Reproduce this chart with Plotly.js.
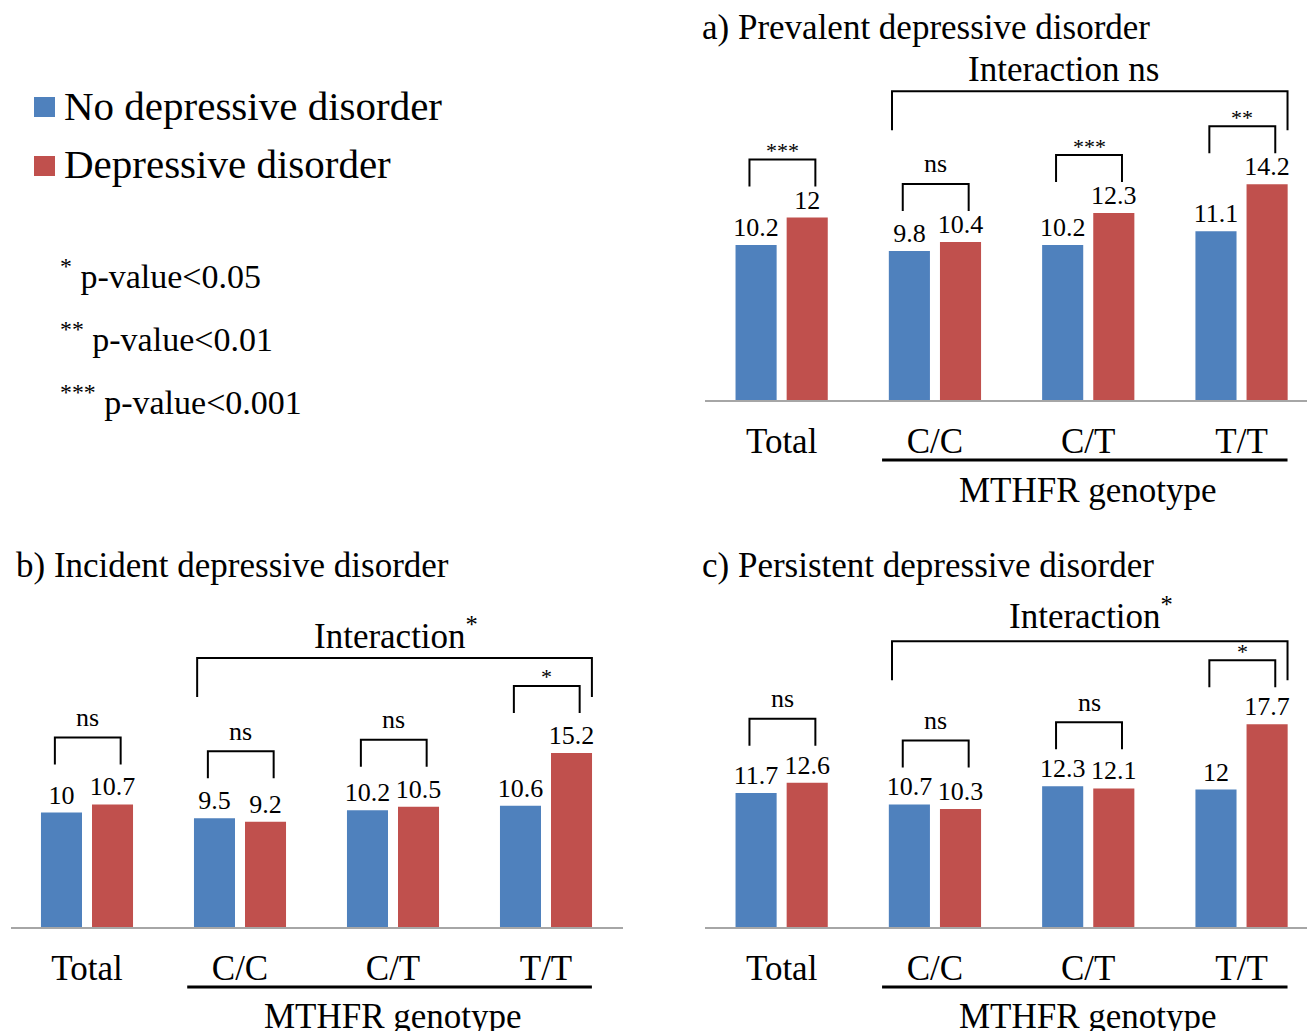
<!DOCTYPE html>
<html><head><meta charset="utf-8">
<script src="https://cdn.plot.ly/plotly-3.0.1.min.js"></script>
<style>html,body{margin:0;padding:0;background:#fff}#chart{width:1307px;height:1031px}</style>
</head><body><div id="chart"></div>
<script>
// ---------- data ----------
const categories = ['Total', 'C/C', 'C/T', 'T/T'];
const seriesNames = ['No depressive disorder', 'Depressive disorder'];

const prevalentNo  = [10.2, 9.8, 10.2, 11.1];
const prevalentYes = [12, 10.4, 12.3, 14.2];
const prevalentSig = ['***', 'ns', '***', '**'];
const prevalentInteraction = 'ns';

const incidentNo  = [10, 9.5, 10.2, 10.6];
const incidentYes = [10.7, 9.2, 10.5, 15.2];
const incidentSig = ['ns', 'ns', 'ns', '*'];
const incidentInteraction = '*';

const persistentNo  = [11.7, 10.7, 12.3, 12];
const persistentYes = [12.6, 10.3, 12.1, 17.7];
const persistentSig = ['ns', 'ns', 'ns', '*'];
const persistentInteraction = '*';

const panelTitles = ['a) Prevalent depressive disorder', 'b) Incident depressive disorder', 'c) Persistent depressive disorder'];
const groupLabel = 'MTHFR genotype';
const pStars = ['*', '**', '***'];
const pTexts = ['p-value&lt;0.05', 'p-value&lt;0.01', 'p-value&lt;0.001'];

// ---------- style / layout ----------
const W = 1307, H = 1031;
const BLUE = '#4F81BD', RED = '#C0504D';
const FONT = 'Liberation Serif, Times New Roman, serif';
const px = v => v / W;          // pixel -> paper x
const py = v => 1 - v / H;      // pixel -> paper y

const panels = [
  {no: prevalentNo, yes: prevalentYes, sig: prevalentSig, inter: prevalentInteraction, title: panelTitles[0],
   xs: '', xPx: [705, 1307], xMax: 3.427, base: 400, ppu: 15.2, yMax: 26,
   titleAt: [700, 27], groupAt: 490, underline: 460, lift: 31, interLift: 54, interX: 1.84, interShift: 0},
  {no: incidentNo, yes: incidentYes, sig: incidentSig, inter: incidentInteraction, title: panelTitles[1],
   xs: '2', xPx: [10.5, 622.5], xMax: 3.5, base: 927, ppu: 11.45, yMax: 28,
   titleAt: [14, 565], groupAt: 1016, underline: 987, lift: 40, interLift: 56, interX: 2.02, interShift: 0},
  {no: persistentNo, yes: persistentYes, sig: persistentSig, inter: persistentInteraction, title: panelTitles[2],
   xs: '3', xPx: [705, 1307], xMax: 3.427, base: 927, ppu: 11.45, yMax: 28,
   titleAt: [700, 565], groupAt: 1016, underline: 987, lift: 37, interLift: 44, interX: 2.02, interShift: 3}
];

const traces = [];
const layout = {
  width: W, height: H,
  margin: {l: 0, r: 0, t: 0, b: 0},
  paper_bgcolor: '#fff', plot_bgcolor: 'rgba(0,0,0,0)',
  showlegend: false,
  barmode: 'group', bargap: 0.333, bargroupgap: 0.196,
  font: {family: FONT, color: '#000'},
  shapes: [], annotations: []
};

panels.forEach((p, k) => {
  const xa = 'x' + p.xs, ya = 'y' + p.xs;
  const common = {type: 'bar', x: categories, xaxis: xa, yaxis: ya,
    texttemplate: '%{y}', textposition: 'outside', cliponaxis: false, constraintext: 'none',
    textfont: {family: FONT, size: 26, color: '#000'}, hoverinfo: 'skip'};
  traces.push(Object.assign({}, common, {name: seriesNames[0], y: p.no, marker: {color: BLUE}}));
  traces.push(Object.assign({}, common, {name: seriesNames[1], y: p.yes, marker: {color: RED}}));

  layout['xaxis' + p.xs] = {
    domain: [px(p.xPx[0]), px(p.xPx[1])], anchor: ya, type: 'category',
    range: [-0.5, p.xMax], showline: true, linecolor: '#A6A6A6', linewidth: 2,
    showgrid: false, zeroline: false, ticks: '', ticklabelstandoff: 9,
    tickfont: {family: FONT, size: 35, color: '#000'}, fixedrange: true
  };
  layout['yaxis' + p.xs] = {
    domain: [py(p.base), py(p.base - p.yMax * p.ppu)], anchor: xa,
    range: [0, p.yMax], visible: false, fixedrange: true
  };

  const u = v => v / p.ppu;  // pixel offset -> data units
  // per-comparison brackets
  categories.forEach((c, i) => {
    const bot = Math.max(p.no[i], p.yes[i]) + u(p.lift);
    const top = bot + u(27);
    const x0 = i - 0.21, x1 = i + 0.22;
    layout.shapes.push({type: 'path', xref: xa, yref: ya,
      path: `M${x0},${bot} L${x0},${top} L${x1},${top} L${x1},${bot}`,
      line: {color: '#000', width: 2}});
    const isStar = p.sig[i] !== 'ns';
    layout.annotations.push({xref: xa, yref: ya, x: i + 0.005, y: top, yanchor: 'middle',
      yshift: isStar ? 9 : 20, showarrow: false, text: p.sig[i],
      font: {family: FONT, size: isStar ? 22 : 26, color: '#000'}});
  });
  // interaction bracket over genotype groups
  const gMax = Math.max(...p.no.slice(1), ...p.yes.slice(1));
  const ib = gMax + u(p.interLift), it = ib + u(39);
  layout.shapes.push({type: 'path', xref: xa, yref: ya,
    path: `M0.72,${ib} L0.72,${it} L3.30,${it} L3.30,${ib}`,
    line: {color: '#000', width: 2}});
  const interText = p.inter === 'ns' ? 'Interaction ns' : 'Interaction<sup>' + p.inter + '</sup>';
  layout.annotations.push({xref: xa, yref: ya, x: p.interX, y: it, yanchor: 'bottom', yshift: p.interShift,
    showarrow: false, text: interText, font: {family: FONT, size: 35, color: '#000'}});
  // genotype underline + label
  layout.shapes.push({type: 'line', xref: xa, yref: 'paper', x0: 0.655, x1: 3.30,
    y0: py(p.underline), y1: py(p.underline), line: {color: '#000', width: 3}});
  layout.annotations.push({xref: xa, yref: 'paper', x: 2.0, y: py(p.groupAt), yanchor: 'middle',
    showarrow: false, text: groupLabel, font: {family: FONT, size: 35, color: '#000'}});
  // panel title
  layout.annotations.push({xref: 'paper', yref: 'paper', x: px(p.titleAt[0]), y: py(p.titleAt[1]),
    xanchor: 'left', yanchor: 'middle', showarrow: false, text: p.title,
    font: {family: FONT, size: 35, color: '#000'}});
});

// custom legend (top-left)
[[BLUE, 97, 106], [RED, 156, 164]].forEach((d, j) => {
  layout.shapes.push({type: 'rect', xref: 'paper', yref: 'paper',
    x0: px(34), x1: px(55), y0: py(d[1]), y1: py(d[1] + 20), fillcolor: d[0], line: {width: 0}});
  layout.annotations.push({xref: 'paper', yref: 'paper', x: px(62), y: py(d[2]), xanchor: 'left', yanchor: 'middle',
    showarrow: false, text: seriesNames[j], font: {family: FONT, size: 41, color: '#000'}});
});
// p-value key
[274, 337, 400].forEach((yy, j) => {
  layout.annotations.push({xref: 'paper', yref: 'paper', x: px(58), y: py(yy), xanchor: 'left', yanchor: 'middle',
    showarrow: false, text: '<sup>' + pStars[j] + '</sup> ' + pTexts[j],
    font: {family: FONT, size: 34, color: '#000'}});
});

Plotly.newPlot('chart', traces, layout, {staticPlot: true, displayModeBar: false});
</script>
</body></html>
